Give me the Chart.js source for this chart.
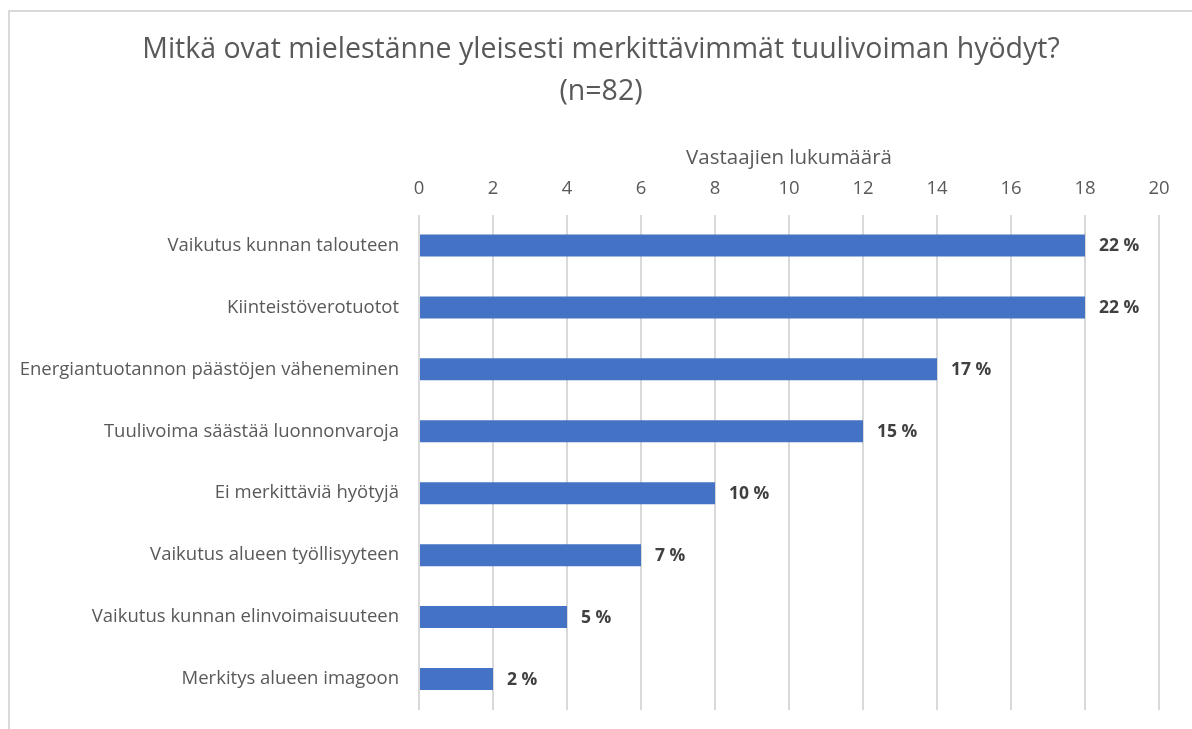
<!DOCTYPE html>
<html>
<head>
<meta charset="utf-8">
<script src="https://cdn.jsdelivr.net/npm/chart.js@4.4.1/dist/chart.umd.min.js"></script>
<style>
  html, body { margin: 0; padding: 0; background: #fff; overflow: hidden; }
  #wrap { position: absolute; left: 0; top: 0; width: 1192px; height: 729px; }
  #chart { position: absolute; left: 0; top: 0; }
  #frame { position: absolute; left: 8px; top: 10px; width: 1200px; height: 740px;
           border: 2px solid #d9d9d9; box-sizing: border-box; }
</style>
</head>
<body>
<div id="wrap">
  <div id="frame"></div>
  <canvas id="chart" width="1192" height="729"></canvas>
</div>
<script>
// ── Data ────────────────────────────────────────────────────────────
const categories = [
  'Vaikutus kunnan talouteen',
  'Kiinteistöverotuotot',
  'Energiantuotannon päästöjen väheneminen',
  'Tuulivoima säästää luonnonvaroja',
  'Ei merkittäviä hyötyjä',
  'Vaikutus alueen työllisyyteen',
  'Vaikutus kunnan elinvoimaisuuteen',
  'Merkitys alueen imagoon',
];
const counts   = [18, 18, 14, 12, 8, 6, 4, 2];
const percents = ['22 %', '22 %', '17 %', '15 %', '10 %', '7 %', '5 %', '2 %'];
const titleLines = ['Mitkä ovat mielestänne yleisesti merkittävimmät tuulivoiman hyödyt?', '(n=82)'];
const axisTitle  = 'Vastaajien lukumäärä';

const FONT = '"Open Sans", sans-serif';

// ── Bar-end labels ──────────────────────────────────────────────────
const barLabels = {
  id: 'barLabels',
  afterDatasetsDraw(chart) {
    const ctx = chart.ctx;
    const meta = chart.getDatasetMeta(0);
    ctx.save();
    ctx.font = 'bold 17.5px ' + FONT;
    ctx.fillStyle = '#404040';
    ctx.textAlign = 'left';
    ctx.textBaseline = 'middle';
    meta.data.forEach((bar, i) => {
      ctx.fillText(percents[i], bar.x + 14, bar.y + 1);
    });
    ctx.restore();
  }
};

// centre the title on the whole frame, not on the padded chart box
const titleCentre = {
  id: 'titleCentre',
  afterLayout(chart) {
    const t = chart.titleBlock;
    if (!t) return;
    t.left = 10;
    t.right = chart.width;
    t.width = t.right - t.left;
  }
};

new Chart(document.getElementById('chart'), {
  type: 'bar',
  data: {
    labels: categories,
    datasets: [{
      data: counts,
      backgroundColor: '#4472c4',
      borderWidth: 0,
      barPercentage: 0.355,
      categoryPercentage: 1,
    }],
  },
  options: {
    indexAxis: 'y',
    responsive: false,
    animation: false,
    layout: { padding: { left: 0, right: 33, top: 0, bottom: 19 } },
    plugins: {
      legend: { display: false },
      tooltip: { enabled: false },
      title: {
        display: true,
        text: titleLines,
        color: '#595959',
        font: { family: FONT, size: 28.5, weight: 'normal', lineHeight: 1.5 },
        padding: { top: 28, bottom: 32 },
      },
    },
    scales: {
      x: {
        position: 'top',
        min: 0, max: 20,
        ticks: { stepSize: 2, color: '#595959', font: { family: FONT, size: 18.5 }, padding: 15 },
        grid: { color: '#d9d9d9', lineWidth: 2, drawTicks: false },
        border: { display: false },
        title: {
          display: true, text: axisTitle, color: '#595959',
          font: { family: FONT, size: 20.5 }, padding: { top: 0, bottom: 0 },
        },
        afterFit(scale) { scale.height = 69; },
      },
      y: {
        ticks: { color: '#595959', font: { family: FONT, size: 18.5 }, padding: 20 },
        grid: { display: false, drawTicks: false },
        border: { display: false },
        afterFit(scale) {
          scale.width = 419;
          scale.paddingTop = 0;
          scale.paddingBottom = 0;
        },
      },
    },
  },
  plugins: [barLabels, titleCentre],
});
</script>
</body>
</html>
